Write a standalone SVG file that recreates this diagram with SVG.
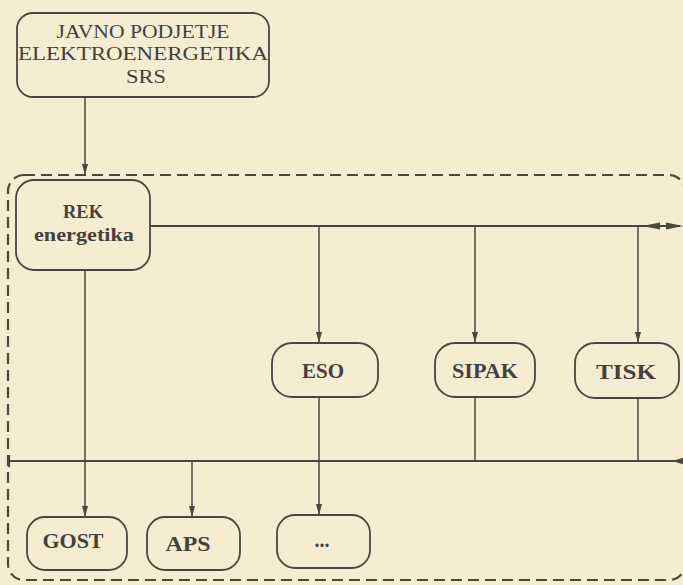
<svg xmlns="http://www.w3.org/2000/svg" width="683" height="585" viewBox="0 0 683 585">
  <defs>
    <marker id="arr" markerUnits="userSpaceOnUse" markerWidth="11" markerHeight="8" refX="11" refY="4" orient="auto">
      <path d="M0,1 L11,4 L0,7 z" fill="#4b4641"/>
    </marker>
    <style>
      .box { fill: none; stroke: #4b4641; stroke-width: 1.8; }
      .ln { fill: none; stroke: #4b4641; stroke-width: 1.5; }
      .bus { fill: none; stroke: #4b4641; stroke-width: 2.2; }
      .dash { fill: none; stroke: #4b4641; stroke-width: 2.2; stroke-dasharray: 11 6; }
      .t1 { font-family: "Liberation Serif", "DejaVu Serif", serif; font-size: 19px; fill: #45403b; text-anchor: middle; }
      .t2 { font-family: "Liberation Serif", "DejaVu Serif", serif; font-size: 20px; font-weight: bold; fill: #45403b; text-anchor: middle; }
      .t3 { font-family: "Liberation Serif", "DejaVu Serif", serif; font-size: 19px; font-weight: bold; fill: #45403b; text-anchor: middle; }
      .head { fill: #4b4641; }
    </style>
  </defs>
  <rect x="0" y="0" width="683" height="585" fill="#f6ecd2"/>

  <g id="frame">
    <rect class="dash" x="8" y="175" width="677" height="405" rx="16"/>
  </g>

  <g id="connectors">
    <line class="ln" x1="85" y1="97" x2="85" y2="175" marker-end="url(#arr)"/>
    <line class="bus" x1="150" y1="226" x2="680" y2="226"/>
    <polygon class="head" points="642,226 660,222.5 660,229.5"/>
    <polygon class="head" points="666,222.5 683,226 666,229.5"/>
    <line class="ln" x1="319" y1="226" x2="319" y2="343" marker-end="url(#arr)"/>
    <line class="ln" x1="475" y1="226" x2="475" y2="343" marker-end="url(#arr)"/>
    <line class="ln" x1="638" y1="226" x2="638" y2="343" marker-end="url(#arr)"/>
    <line class="bus" x1="8" y1="461" x2="676" y2="461"/>
    <polygon class="head" points="672,461 684,457.5 684,464.5"/>
    <line class="bus" x1="9" y1="455" x2="9" y2="467"/>
    <line class="ln" x1="85" y1="270" x2="85" y2="517" marker-end="url(#arr)"/>
    <line class="ln" x1="319" y1="397" x2="319" y2="515" marker-end="url(#arr)"/>
    <line class="ln" x1="475" y1="397" x2="475" y2="461"/>
    <line class="ln" x1="638" y1="398" x2="638" y2="461"/>
    <line class="ln" x1="192" y1="461" x2="192" y2="517" marker-end="url(#arr)"/>
  </g>

  <g id="javno">
    <rect class="box" x="17" y="13" width="252" height="84" rx="16"/>
    <text class="t1" x="143" y="38" textLength="173" lengthAdjust="spacingAndGlyphs">JAVNO PODJETJE</text>
    <text class="t1" x="143" y="60" textLength="250" lengthAdjust="spacingAndGlyphs">ELEKTROENERGETIKA</text>
    <text class="t1" x="146" y="83" textLength="40" lengthAdjust="spacingAndGlyphs">SRS</text>
  </g>

  <g id="rek">
    <rect class="box" x="16" y="180" width="134" height="90" rx="18"/>
    <text class="t3" x="83" y="218" textLength="40" lengthAdjust="spacingAndGlyphs">REK</text>
    <text class="t3" x="84" y="241" textLength="100" lengthAdjust="spacingAndGlyphs">energetika</text>
  </g>

  <g id="eso">
    <rect class="box" x="272" y="343" width="106" height="54" rx="20"/>
    <text class="t2" x="323" y="378" textLength="42" lengthAdjust="spacingAndGlyphs">ESO</text>
  </g>

  <g id="sipak">
    <rect class="box" x="435" y="343" width="100" height="54" rx="20"/>
    <text class="t2" x="485" y="378" textLength="66" lengthAdjust="spacingAndGlyphs">SIPAK</text>
  </g>

  <g id="tisk">
    <rect class="box" x="575" y="343" width="104" height="55" rx="20"/>
    <text class="t2" x="626" y="379" textLength="60" lengthAdjust="spacingAndGlyphs">TISK</text>
  </g>

  <g id="gost">
    <rect class="box" x="27" y="517" width="100" height="53" rx="18"/>
    <text class="t2" x="73" y="548" textLength="61" lengthAdjust="spacingAndGlyphs">GOST</text>
  </g>

  <g id="aps">
    <rect class="box" x="147" y="517" width="93" height="53" rx="18"/>
    <text class="t2" x="188" y="551" textLength="45" lengthAdjust="spacingAndGlyphs">APS</text>
  </g>

  <g id="more">
    <rect class="box" x="277" y="515" width="93" height="53" rx="18"/>
    <text class="t2" x="322" y="547">...</text>
  </g>
</svg>
